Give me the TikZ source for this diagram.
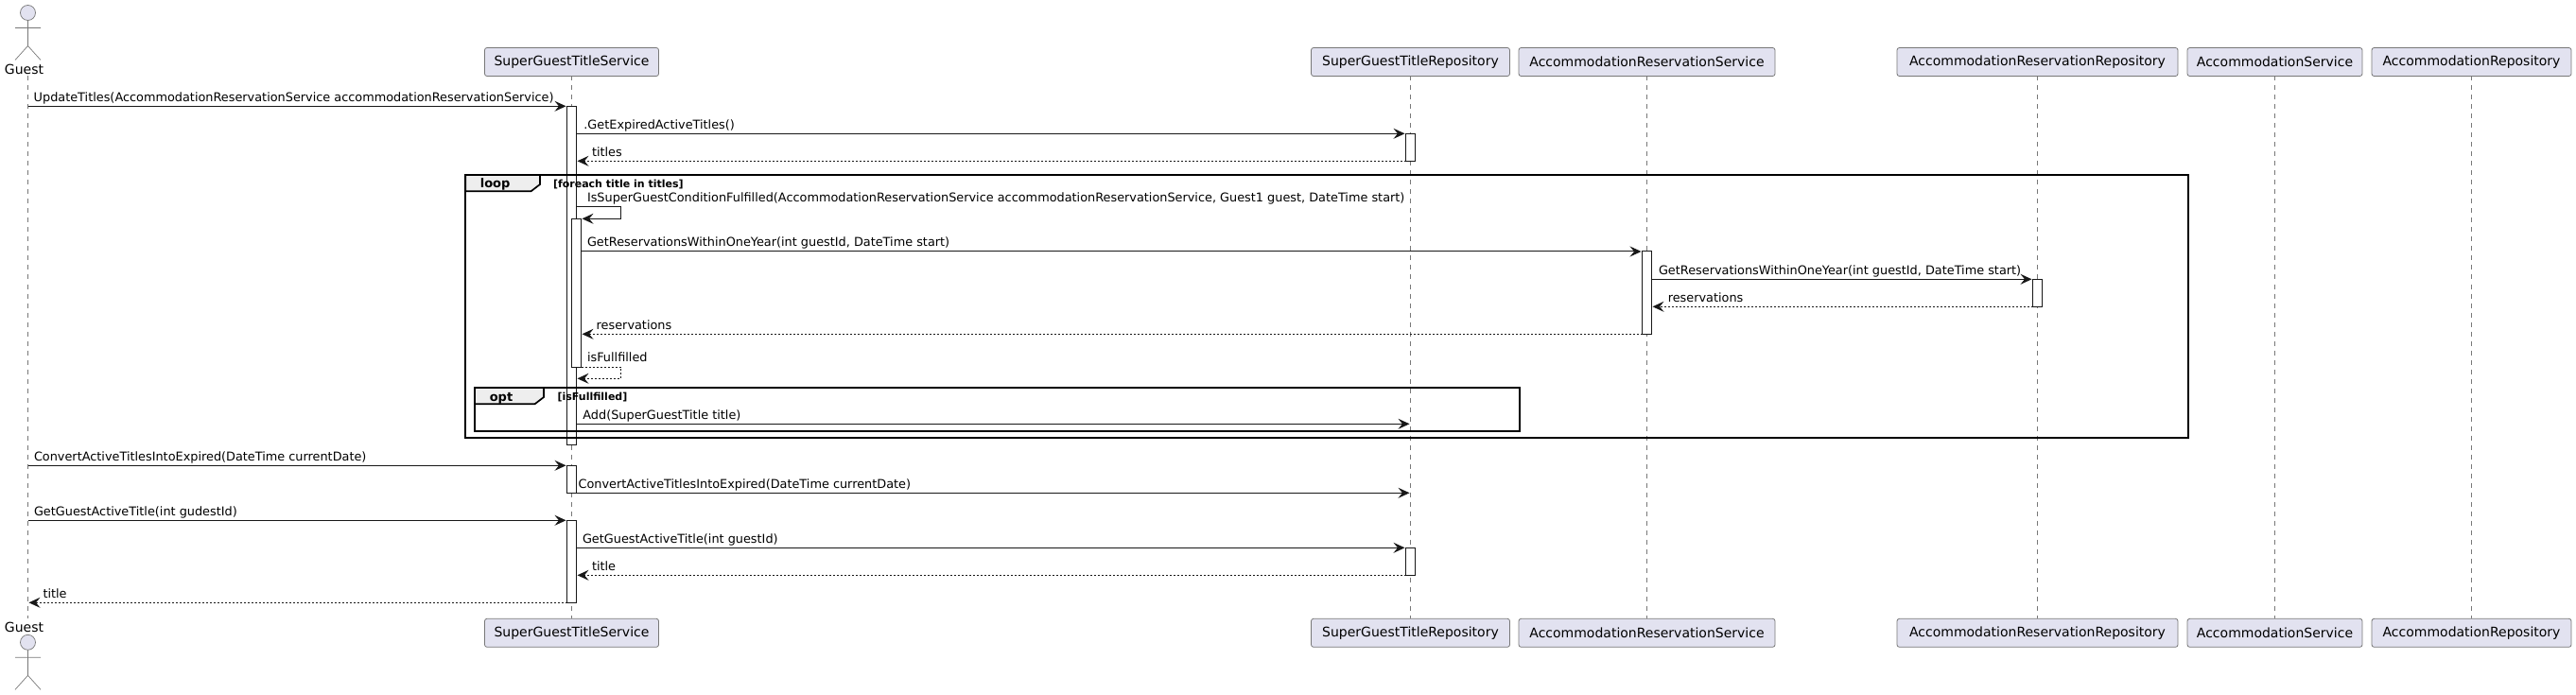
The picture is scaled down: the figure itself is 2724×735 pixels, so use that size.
\documentclass[tikz,border=0pt]{standalone}
\usepackage{fontspec}
\setmainfont{DejaVu Sans}
\usetikzlibrary{arrows.meta}
\definecolor{partfill}{HTML}{E2E2F0}
\definecolor{umlink}{HTML}{181818}
\definecolor{thinink}{HTML}{787878}
\definecolor{tabfill}{HTML}{EEEEEE}
\tikzset{
	part/.style={draw=thinink, line width=0.8pt, fill=partfill, rounded corners=2.5pt, inner sep=0pt, outer sep=0pt, minimum height=30pt, font=\fontsize{14}{16}\selectfont},
	partname/.style={inner sep=0pt, outer sep=0pt, text=black, font=\fontsize{14}{16}\selectfont},
	lifeline/.style={draw=thinink, line width=0.6pt, dash pattern=on 5pt off 5pt},
	actorline/.style={draw=thinink, line width=0.7pt},
	actbar/.style={draw=umlink, line width=1pt, fill=white, inner sep=0pt, outer sep=0pt, minimum width=10pt, anchor=north},
	msg/.style={draw=umlink, line width=1pt, -{Stealth[length=12pt,width=11pt,inset=4.5pt]}, shorten >=1pt},
	ret/.style={msg, dash pattern=on 2pt off 2pt},
	msgtext/.style={anchor=base west, inner sep=0pt, outer sep=0pt, font=\fontsize{12.85}{15}\selectfont},
	framebox/.style={draw=black, line width=1.7pt},
	frametab/.style={framebox, fill=tabfill},
	tabtext/.style={anchor=base, inner sep=0pt, outer sep=0pt, font=\fontsize{13}{15}\selectfont\bfseries},
	guardtext/.style={anchor=base west, inner sep=0pt, outer sep=0pt, font=\fontsize{11}{13}\selectfont\bfseries},
}
\def\guestfigure(#1,#2){\draw[actorline, fill=partfill] (#1,#2+8) circle (8); \draw[actorline] (#1,#2+16) -- (#1,#2+43) (#1-13.5,#2+24) -- (#1+13.5,#2+24) (#1-13.5,#2+58) -- (#1,#2+43) -- (#1+13.5,#2+58);}

\begin{document}
\begin{tikzpicture}[x=1pt, y=-1pt]
		%%%%% START %%%%%
		\useasboundingbox (0, 0) rectangle (2724, 735);
		
		\node[part, minimum width=184pt] (svc) at (604.5, 65.5) {SuperGuestTitleService};
		\node[part, minimum width=210pt] (repo) at (1491.5, 65.5) {SuperGuestTitleRepository};
		\node[part, minimum width=271pt] (resSvc) at (1741.5, 65.5) {AccommodationReservationService};
		\node[part, minimum width=297pt] (resRepo) at (2154.5, 65.5) {AccommodationReservationRepository};
		\node[part, minimum width=185pt] (accSvc) at (2405.5, 65.5) {AccommodationService};
		\node[part, minimum width=211pt] (accRepo) at (2613.5, 65.5) {AccommodationRepository};
		
		\node[part, minimum width=184pt] (svcEnd) at (604.5, 669.3) {SuperGuestTitleService};
		\node[part, minimum width=210pt] (repoEnd) at (1491.5, 669.3) {SuperGuestTitleRepository};
		\node[part, minimum width=271pt] (resSvcEnd) at (1741.5, 669.3) {AccommodationReservationService};
		\node[part, minimum width=297pt] (resRepoEnd) at (2154.5, 669.3) {AccommodationReservationRepository};
		\node[part, minimum width=185pt] (accSvcEnd) at (2405.5, 669.3) {AccommodationService};
		\node[part, minimum width=211pt] (accRepoEnd) at (2613.5, 669.3) {AccommodationRepository};
		
		\guestfigure(29.5, 5.5)
		\guestfigure(29.5, 671.3)
		\node[partname] (guest) at (25.5, 73) {Guest};
		\node[partname] (guestEnd) at (25.5, 663.3) {Guest};
		\coordinate (guestTop) at (29.5, 80.5);
		\coordinate (guestBot) at (29.5, 654.3);
		
		\draw[lifeline] (guestTop) -- (guestBot);
		\draw[lifeline] (svc) -- (svcEnd);
		\draw[lifeline] (repo) -- (repoEnd);
		\draw[lifeline] (resSvc) -- (resSvcEnd);
		\draw[lifeline] (resRepo) -- (resRepoEnd);
		\draw[lifeline] (accSvc) -- (accSvcEnd);
		\draw[lifeline] (accRepo) -- (accRepoEnd);
		
		\node[actbar, minimum height=358pt] (barUpdate) at (604.5, 112.3) {};
		\node[actbar, minimum height=29pt] (barRepoA) at (1491.5, 141.3) {};
		\node[actbar, minimum height=157pt] (barCheck) at (609.5, 231.3) {};
		\node[actbar, minimum height=87.3pt] (barResSvc) at (1741.5, 266) {};
		\node[actbar, minimum height=29pt] (barResRepo) at (2154.5, 295.3) {};
		\node[actbar, minimum height=29pt] (barConvert) at (604.5, 492.3) {};
		\node[actbar, minimum height=87pt] (barActive) at (604.5, 550.3) {};
		\node[actbar, minimum height=29pt] (barRepoB) at (1491.5, 579.3) {};
		
		\draw[framebox] (492.3, 185) rectangle (2314, 463.3);
		\draw[frametab] (492.3, 185) -- (571, 185) -- (571, 195) -- (561.5, 202.3) -- (492.3, 202.3) -- cycle;
		\node[tabtext] (loopName) at (523.6, 199) {loop};
		\node[guardtext] (loopGuard) at (585, 198.3) {[foreach title in titles]};
		
		\draw[framebox] (502, 410) rectangle (1607, 456.3);
		\draw[frametab] (502, 410) -- (575, 410) -- (575, 420) -- (565.5, 427.3) -- (502, 427.3) -- cycle;
		\node[tabtext] (optName) at (530, 424.3) {opt};
		\node[guardtext] (optGuard) at (589.6, 423.3) {[isFullfilled]};
		
		\coordinate (checkTurn) at (656.6, 218.3);
		\coordinate (fullTurn) at (656.6, 400.3);
		\coordinate (addLevel) at (0, 448.3);
		
		\draw[msg] (guestTop |- barUpdate.north) -- (barUpdate.north west);
		\node[msgtext] (msgUpdate) at (35.7, 107.3) {UpdateTitles(AccommodationReservationService accommodationReservationService)};
		
		\draw[msg] (barUpdate.east |- barRepoA.north) -- (barRepoA.north west);
		\node[msgtext] (msgExpired) at (617.4, 136.3) {.GetExpiredActiveTitles()};
		\draw[ret] (barRepoA.south west) -- (barUpdate.east |- barRepoA.south);
		\node[msgtext] (msgTitles) at (626, 165.3) {titles};
		
		\draw[msg] (barUpdate.east |- checkTurn) -- (checkTurn) -- (checkTurn |- barCheck.north) -- (barCheck.north east);
		\node[msgtext] (msgCheck) at (621, 213.3) {IsSuperGuestConditionFulfilled(AccommodationReservationService accommodationReservationService, Guest1 guest, DateTime start)};
		
		\draw[msg] (barCheck.east |- barResSvc.north) -- (barResSvc.north west);
		\node[msgtext] (msgWithin) at (621, 261) {GetReservationsWithinOneYear(int guestId, DateTime start)};
		\draw[msg] (barResSvc.east |- barResRepo.north) -- (barResRepo.north west);
		\node[msgtext] (msgWithinRepo) at (1754, 290.3) {GetReservationsWithinOneYear(int guestId, DateTime start)};
		\draw[ret] (barResRepo.south west) -- (barResSvc.east |- barResRepo.south);
		\node[msgtext] (msgResRepo) at (1763.8, 319.3) {reservations};
		\draw[ret] (barResSvc.south west) -- (barCheck.east |- barResSvc.south);
		\node[msgtext] (msgResSvc) at (630.7, 348.3) {reservations};
		
		\draw[ret] (barCheck.south east) -- (fullTurn |- barCheck.south) -- (fullTurn) -- (barUpdate.east |- fullTurn);
		\node[msgtext] (msgFull) at (621, 382.8) {isFullfilled};
		
		\draw[msg] (barUpdate.east |- addLevel) -- (repo |- addLevel);
		\node[msgtext] (msgAdd) at (616.4, 443.3) {Add(SuperGuestTitle title)};
		
		\draw[msg] (guestTop |- barConvert.north) -- (barConvert.north west);
		\node[msgtext] (msgConvert) at (36, 487.3) {ConvertActiveTitlesIntoExpired(DateTime currentDate)};
		\draw[msg] (barConvert.south east) -- (repo |- barConvert.south);
		\node[msgtext] (msgConvertRepo) at (611.6, 516.3) {ConvertActiveTitlesIntoExpired(DateTime currentDate)};
		
		\draw[msg] (guestTop |- barActive.north) -- (barActive.north west);
		\node[msgtext] (msgActive) at (36, 545.3) {GetGuestActiveTitle(int gudestId)};
		\draw[msg] (barActive.east |- barRepoB.north) -- (barRepoB.north west);
		\node[msgtext] (msgActiveRepo) at (616, 574.3) {GetGuestActiveTitle(int guestId)};
		\draw[ret] (barRepoB.south west) -- (barActive.east |- barRepoB.south);
		\node[msgtext] (msgTitle) at (626, 603.3) {title};
		\draw[ret] (barActive.south west) -- (guestTop |- barActive.south);
		\node[msgtext] (msgTitleBack) at (45.5, 632.3) {title};
		
		%%%%% END %%%%%
	\end{tikzpicture}
\end{document}
